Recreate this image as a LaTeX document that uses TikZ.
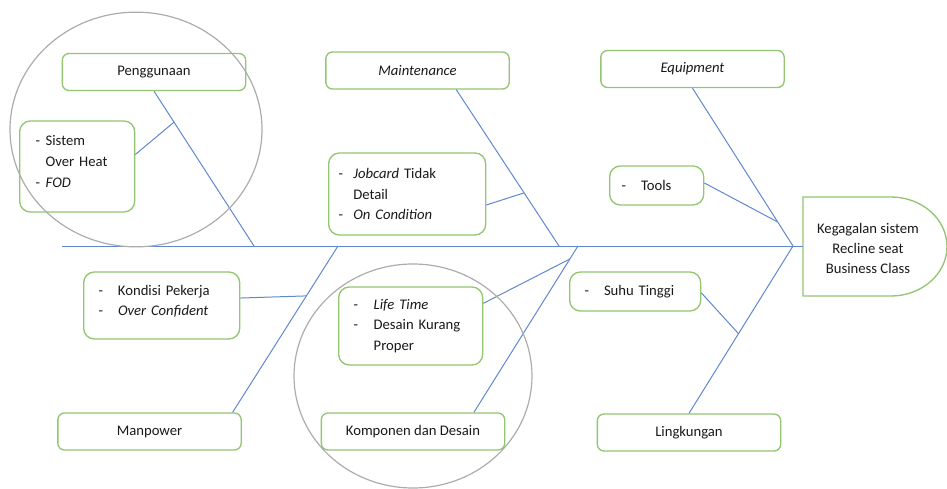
\documentclass[tikz,border=0pt]{standalone}
\usepackage{fontspec}
\setmainfont{Carlito}
\usetikzlibrary{calc}
\definecolor{boxgreen}{RGB}{146,198,112}
\definecolor{boneblue}{RGB}{96,136,206}
\definecolor{inktext}{RGB}{25,25,25}
\newcommand{\dsh}[1][14.5pt]{\makebox[#1][l]{-}}
\tikzset{
  cat/.style={draw=boxgreen, line width=1pt, rounded corners=5pt, minimum width=137.5pt,
    minimum height=27.75pt, text=inktext, font=\fontsize{11}{15.4}\selectfont},
  list/.style={draw=boxgreen, line width=1pt, rounded corners=8pt, anchor=west, align=left,
    text=inktext, font=\fontsize{11}{15.4}\selectfont},
  bone/.style={draw=boneblue, line width=0.75pt},
  lens/.style={draw=gray!65, line width=0.9pt}
}
\begin{document}
\begin{tikzpicture}[x=0.75pt, y=-0.75pt]
    \useasboundingbox (0,0) rectangle (947,489);
    % place nodes
    \node [cat] (peng) at (154,72) {Penggunaan};
    \node [cat] (maint) at (417.5,70.5) {\textit{Maintenance}};
    \node [cat] (equip) at (692.5,69) {\textit{Equipment}};
    \node [cat] (manp) at (149.5,431.5) {Manpower};
    \node [cat] (komp) at (413,431.5) {Komponen dan Desain};
    \node [cat] (lingk) at (689,432.5) {Lingkungan};
    \node [list, inner xsep=12pt, text width=62.25pt, minimum height=68.25pt] (sistem) at (19,166.5)
      {\dsh[7.5pt]Sistem\\\hspace*{7.5pt}Over Heat\\\dsh[7.5pt]\textit{FOD}\par\vspace{7.5pt}};
    \node [list, inner xsep=7.5pt, text width=102.75pt, minimum height=61.5pt] (jobcard) at (328,194)
      {\dsh[11pt]\textit{Jobcard} Tidak\\\hspace*{11pt}Detail\\\dsh[11pt]\textit{On Condition}};
    \node [list, inner xsep=9pt, text width=52.5pt, minimum height=29.25pt] (tools) at (609,185.5)
      {\dsh Tools};
    \node [list, inner xsep=11.25pt, text width=94.5pt, minimum height=50.25pt] (kondisi) at (83,305.5)
      {\dsh Kondisi Pekerja\\\dsh\textit{Over Confident}\par\vspace{6pt}};
    \node [list, inner xsep=11.25pt, text width=85.5pt, minimum height=58.5pt] (life) at (338,326)
      {\dsh[15pt]\textit{Life Time}\\\dsh[15pt]Desain Kurang\\\hspace*{15pt}Proper};
    \node [list, inner xsep=11.25pt, text width=75.75pt, minimum height=29.25pt] (suhu) at (569,291.5)
      {\dsh Suhu Tinggi};
    % head of the fish
    \node [text=inktext, align=center, font=\fontsize{11}{15}\selectfont] (head) at (868,248)
      {Kegagalan sistem\\Recline seat\\Business Class};
    \draw [draw=boxgreen, line width=1pt] (803,197) -- (891,197)
      arc [start angle=90, end angle=-90, x radius=42pt, y radius=37.125pt] -- (803,296) -- cycle;
    % spine
    \coordinate (tail) at (62,246);
    \coordinate (mouth) at (793,246);
    \coordinate (headw) at (803,246);
    \draw [bone] (tail) -- (headw);
    % draw edges
    \draw [bone] (peng.south) -- coordinate[pos=0.2] (pengmid) (254,246);
    \draw [bone] ($(maint.south west)!0.71!(maint.south east)$) -- coordinate[pos=0.66] (maintmid) (559,246);
    \draw [bone] (equip.south) -- coordinate[pos=0.848] (equipmid) (mouth);
    \draw [bone] ($(manp.north west)!0.95!(manp.north east)$) -- coordinate[pos=0.70] (manpmid) (338,246);
    \draw [bone] ($(komp.north west)!0.83!(komp.north east)$) -- coordinate[pos=0.922] (kompmid) (578,246);
    \draw [bone] (lingk.north) -- coordinate[pos=0.476] (lingkmid) (mouth);
    % small bones
    \draw [bone] ([yshift=9pt]sistem.east) -- (pengmid);
    \draw [bone] ([yshift=-8.25pt]jobcard.east) -- (maintmid);
    \draw [bone] ([yshift=1.9pt]tools.east) -- (equipmid);
    \draw [bone] ([yshift=5.6pt]kondisi.east) -- (manpmid);
    \draw [bone] ([yshift=17pt]life.east) -- (kompmid);
    \draw [bone] ([yshift=-1pt]suhu.east) -- (lingkmid);
    % magnifier circles
    \draw [lens] (136,129.5) ellipse [x radius=94.5pt, y radius=88pt];
    \draw [lens] (413,376) ellipse [x radius=89.25pt, y radius=84pt];
\end{tikzpicture}
\end{document}
